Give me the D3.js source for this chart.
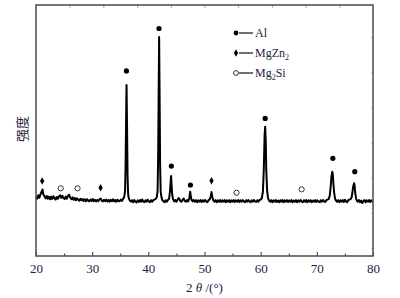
<!DOCTYPE html>
<html>
<head>
<meta charset="utf-8">
<script src="https://cdn.jsdelivr.net/npm/d3@7"></script>
<style>
  body { margin: 0; background: #fff; }
  svg text { font-family: "Liberation Serif", "DejaVu Serif", serif; fill: #1c2340; }
</style>
</head>
<body>
<div id="chart"></div>
<script>
// XRD scan, 2theta (deg) and intensity (counts)
const theta = [
  20.0,20.2,20.4,20.6,20.8,21.0,21.15,21.3,21.5,21.7,21.9,22.1,22.3,22.5,22.7,22.9,23.1,23.3,23.5,23.7,23.9,
  24.1,24.3,24.5,24.7,24.9,25.1,25.3,25.5,25.7,25.9,26.1,26.3,26.5,26.7,26.9,27.1,27.3,27.5,27.7,27.9,
  28.1,28.3,28.5,28.7,28.9,29.1,29.3,29.5,29.7,29.9,30.1,30.3,30.5,30.7,30.9,31.1,31.3,31.5,31.7,31.9,
  32.1,32.3,32.5,32.7,32.9,33.1,33.3,33.5,33.7,33.9,34.1,34.3,34.5,34.7,34.9,35.1,35.3,35.5,35.7,35.85,
  35.95,36.05,36.12,36.2,36.3,36.4,36.5,36.7,36.9,37.1,37.3,37.5,37.7,37.9,38.1,38.3,38.5,38.7,38.9,
  39.1,39.3,39.5,39.7,39.9,40.1,40.3,40.5,40.7,40.9,41.1,41.3,41.5,41.65,41.75,41.85,41.92,42.0,42.1,
  42.2,42.35,42.5,42.7,42.9,43.1,43.3,43.5,43.7,43.85,43.95,44.05,44.15,44.25,44.4,44.6,44.8,45.0,45.2,
  45.4,45.55,45.7,45.9,46.1,46.3,46.5,46.7,46.9,47.1,47.3,47.45,47.55,47.7,47.9,48.1,48.3,48.5,48.7,
  48.9,49.1,49.3,49.5,49.7,49.9,50.1,50.3,50.5,50.7,50.9,51.1,51.25,51.4,51.6,51.8,52.0,52.2,52.4,
  52.6,52.8,53.0,53.2,53.4,53.6,53.8,54.0,54.2,54.4,54.6,54.8,55.0,55.2,55.4,55.6,55.8,56.0,56.2,
  56.4,56.6,56.8,57.0,57.2,57.4,57.6,57.8,58.0,58.2,58.4,58.6,58.8,59.0,59.2,59.4,59.6,59.8,60.0,
  60.2,60.4,60.55,60.7,60.8,60.9,61.0,61.15,61.3,61.5,61.7,61.9,62.1,62.3,62.5,62.7,62.9,63.1,63.3,
  63.5,63.7,63.9,64.1,64.3,64.5,64.7,64.9,65.1,65.3,65.5,65.7,65.9,66.1,66.3,66.5,66.7,66.9,67.1,
  67.3,67.5,67.7,67.9,68.1,68.3,68.5,68.7,68.9,69.1,69.3,69.5,69.7,69.9,70.1,70.3,70.5,70.7,70.9,
  71.1,71.3,71.5,71.7,71.9,72.1,72.3,72.45,72.6,72.75,72.85,72.95,73.1,73.25,73.4,73.6,73.8,74.0,
  74.2,74.4,74.6,74.8,75.0,75.2,75.4,75.6,75.8,76.0,76.2,76.35,76.5,76.65,76.75,76.85,77.0,77.15,
  77.3,77.5,77.7,77.9,78.1,78.3,78.5,78.7,78.9,79.1,79.3,79.5,79.7,79.9,80.0
];
const counts = [
  590,570,605,580,615,640,662,615,595,575,598,570,592,565,590,568,595,575,562,588,570,
  595,605,580,600,575,568,592,570,600,610,580,565,585,560,578,555,575,560,550,570,
  555,568,548,565,545,566,552,545,563,548,568,546,560,544,558,546,565,572,552,544,
  560,546,563,544,558,541,559,546,565,544,558,541,561,548,545,563,549,568,588,640,
  900,1400,1703,1350,800,620,578,552,542,556,536,558,541,534,554,538,558,541,563,
  544,536,556,541,561,544,536,556,541,558,562,568,585,650,1000,1700,2181,1650,900,
  640,582,557,544,536,556,541,558,572,640,720,797,700,610,568,544,558,541,561,
  578,566,546,541,561,572,548,541,558,544,575,640,600,558,544,558,541,556,536,
  554,541,558,538,556,541,558,544,536,556,562,590,637,585,552,541,556,536,554,
  541,558,538,554,541,558,536,554,541,556,536,554,541,557,538,554,541,558,538,
  554,541,557,544,536,556,541,558,544,536,554,541,558,544,538,556,541,558,562,
  575,640,850,1200,1288,1150,850,650,578,552,541,556,536,554,541,558,538,552,536,
  556,541,558,536,554,541,556,538,554,541,558,536,552,541,556,536,554,541,558,
  544,536,556,541,558,536,554,541,556,536,552,541,558,538,554,541,536,556,541,
  558,544,538,556,562,566,600,680,790,840,810,720,620,572,552,541,556,536,
  554,541,558,538,561,544,536,556,562,566,585,640,700,724,690,620,570,549,
  541,558,536,552,528,548,556,536,554,541,558,538,554,541,548
];

// phase markers: [2theta, counts]
const alMarks = [[36.1,1843],[41.9,2266],[44.1,896],[47.5,707],[60.8,1370],[72.85,973],[76.75,840]];
const mgzn2Marks = [[21.1,747],[31.5,680],[51.25,750]];
const mg2siMarks = [[24.4,674],[27.4,674],[55.7,630],[67.3,664]];

const xTicks = [20, 30, 40, 50, 60, 70, 80];
const xMinor = [25, 35, 45, 55, 65, 75];
const topTicks = [26, 32, 38, 44, 50, 56, 62, 68, 74];
const rightTicks = [80, 430, 780, 1130, 1480, 1830, 2180];

const W = 400, H = 298;
const margin = {top: 5, right: 27, bottom: 42, left: 36};
const width = W - margin.left - margin.right;
const height = H - margin.top - margin.bottom;

const svg = d3.select("#chart").append("svg")
    .attr("width", W)
    .attr("height", H);

const g = svg.append("g")
    .attr("transform", `translate(${margin.left},${margin.top})`);

const x = d3.scaleLinear().domain([20, 80]).range([0, width]);
const y = d3.scaleLinear().domain([0, 2500]).range([height, 0]);

// spectrum
const pts = theta.map((t, i) => [t, counts[i]]);
const line = d3.line().x(d => x(d[0])).y(d => y(d[1]));

g.append("path")
    .datum(pts)
    .attr("fill", "none")
    .attr("stroke", "#000")
    .attr("stroke-width", 2)
    .attr("stroke-linejoin", "round")
    .attr("d", line);

// markers
g.selectAll(".al").data(alMarks).enter().append("circle")
    .attr("cx", d => x(d[0])).attr("cy", d => y(d[1]))
    .attr("r", 2.6).attr("fill", "#000");

const diamond = d3.symbol().type(d3.symbolDiamond).size(16);
g.selectAll(".mz").data(mgzn2Marks).enter().append("path")
    .attr("d", diamond)
    .attr("transform", d => `translate(${x(d[0])},${y(d[1])})`)
    .attr("fill", "#000");

g.selectAll(".ms").data(mg2siMarks).enter().append("circle")
    .attr("cx", d => x(d[0])).attr("cy", d => y(d[1]))
    .attr("r", 2.6).attr("fill", "none")
    .attr("stroke", "#333").attr("stroke-width", 1);

// axes
const xAxis = d3.axisBottom(x).tickValues(xTicks).tickSize(-4).tickPadding(8).tickFormat(d3.format("d"));
const ax = g.append("g").attr("transform", `translate(0,${height})`).call(xAxis);
ax.select(".domain").remove();
ax.selectAll("line").attr("stroke", "#333");
ax.selectAll("text").style("font-size", "13px").attr("fill", "#1c2340");

g.append("g").attr("transform", `translate(0,${height})`)
    .call(d3.axisBottom(x).tickValues(xMinor).tickSize(-2.5).tickFormat(""))
    .call(s => s.select(".domain").remove())
    .selectAll("line").attr("stroke", "#333");

g.append("g")
    .call(d3.axisTop(x).tickValues(topTicks).tickSize(-2.5).tickFormat(""))
    .call(s => s.select(".domain").remove())
    .selectAll("line").attr("stroke", "#888");

g.append("g").attr("transform", `translate(${width},0)`)
    .call(d3.axisRight(y).tickValues(rightTicks).tickSize(-2).tickFormat(""))
    .call(s => s.select(".domain").remove())
    .selectAll("line").attr("stroke", "#c4c4c4");

// frame
g.append("rect")
    .attr("width", width).attr("height", height)
    .attr("fill", "none")
    .attr("stroke", "#555")
    .attr("stroke-width", 1.6);

// axis titles
const xt = svg.append("text")
    .attr("x", margin.left + width / 2)
    .attr("y", 292)
    .attr("text-anchor", "middle")
    .style("font-size", "13px");
xt.append("tspan").text("2 ");
xt.append("tspan").style("font-style", "italic").text("θ");
xt.append("tspan").text(" /(°)");

svg.append("text")
    .attr("transform", `translate(27,${margin.top + 124}) rotate(-90)`)
    .attr("text-anchor", "middle")
    .style("font-family", "'Noto Sans CJK SC', sans-serif")
    .style("font-size", "13px")
    .text("强度");

// legend
const legend = svg.append("g").attr("transform", "translate(236,33)");
const rows = [
    {kind: "dot", label: ["Al"]},
    {kind: "diamond", label: ["MgZn", "2"]},
    {kind: "ring", label: ["Mg", "2", "Si"]}
];
rows.forEach((r, i) => {
    const row = legend.append("g").attr("transform", `translate(0,${i * 20})`);
    if (r.kind === "dot") {
        row.append("circle").attr("r", 2.4).attr("fill", "#000");
    } else if (r.kind === "diamond") {
        row.append("path").attr("d", diamond).attr("fill", "#000");
    } else {
        row.append("circle").attr("r", 2.4).attr("fill", "none").attr("stroke", "#333").attr("stroke-width", 1);
    }
    row.append("line").attr("x1", 3).attr("x2", 17).attr("stroke", "#222").attr("stroke-width", 1.3);
    const t = row.append("text").attr("x", 19).attr("y", 4).style("font-size", "12px");
    t.append("tspan").text(r.label[0]);
    if (r.label.length > 1) {
        t.append("tspan").attr("dy", 3).style("font-size", "8px").text(r.label[1]);
    }
    if (r.label.length > 2) {
        t.append("tspan").attr("dy", -3).text(r.label[2]);
    }
});
</script>
</body>
</html>
